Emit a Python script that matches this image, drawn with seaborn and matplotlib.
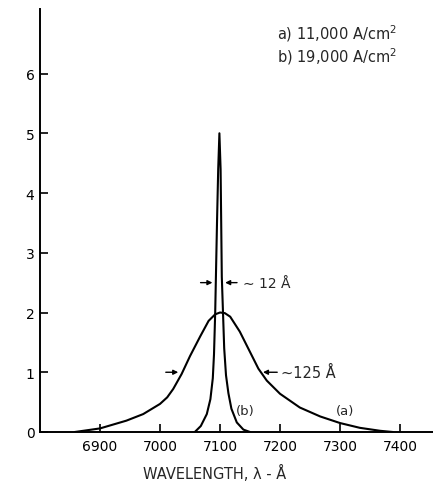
import numpy as np
import pandas as pd
import matplotlib
matplotlib.use("Agg")
import matplotlib.pyplot as plt
import seaborn as sns

# curve (a): 11,000 A/cm2
wl_a = [6858, 6900, 6944, 6972, 7000, 7012, 7022, 7036, 7050, 7067, 7081, 7092, 7100,
        7108, 7117, 7133, 7150, 7164, 7178, 7200, 7233, 7267, 7300, 7333, 7367, 7388]
int_a = [0.0, 0.06, 0.19, 0.30, 0.47, 0.58, 0.72, 0.97, 1.27, 1.60, 1.86, 1.97, 2.0,
         1.99, 1.93, 1.68, 1.34, 1.06, 0.86, 0.64, 0.41, 0.26, 0.15, 0.07, 0.02, 0.0]

# curve (b): 19,000 A/cm2
wl_b = [7058, 7068, 7078, 7084, 7088, 7090, 7092, 7093, 7095, 7097, 7099,
        7101, 7102, 7103, 7105, 7107, 7110, 7114, 7119, 7128, 7139, 7150]
int_b = [0.0, 0.10, 0.30, 0.55, 0.90, 1.30, 2.0, 2.5, 3.5, 4.4, 5.0,
         4.4, 3.5, 2.6, 2.0, 1.4, 0.95, 0.65, 0.39, 0.16, 0.04, 0.0]

x_ticks = [6900, 7000, 7100, 7200, 7300, 7400]
y_ticks = [0, 1, 2, 3, 4, 5, 6]
legend_lines = ["a) 11,000 A/cm$^2$", "b) 19,000 A/cm$^2$"]

sns.set_style("ticks")
plt.rcParams['font.family'] = ['DejaVu Sans']

fig = plt.figure(figsize=(4.33, 4.85), dpi=100)
ax = fig.add_axes([40 / 433, 52 / 485, 393 / 433, 423 / 485])

df_a = pd.DataFrame({"wl": wl_a, "I": int_a})
df_b = pd.DataFrame({"wl": wl_b, "I": int_b})
sns.lineplot(data=df_a, x="wl", y="I", color="black", lw=1.5, sort=False, estimator=None, ax=ax)
sns.lineplot(data=df_b, x="wl", y="I", color="black", lw=1.5, sort=False, estimator=None, ax=ax)

ax.set_xlim(6800, 7455)
ax.set_ylim(0, 7.08)
ax.set_xticks(x_ticks)
ax.set_yticks(y_ticks)
ax.tick_params(direction="in", length=6, width=1.2, labelsize=10, colors="black")
ax.tick_params(axis="y", pad=4)
ax.tick_params(axis="x", pad=5)
ax.spines["top"].set_visible(False)
ax.spines["right"].set_visible(False)
for s in ("left", "bottom"):
    ax.spines[s].set_linewidth(1.4)
    ax.spines[s].set_color("black")
ax.set_xlabel("WAVELENGTH, λ - Å", fontsize=10.5)
ax.xaxis.set_label_coords(0.445, -0.076)
ax.set_ylabel("")

# legend text
ax.text(7195, 6.68, legend_lines[0], fontsize=10.5, ha="left", va="center")
ax.text(7195, 6.3, legend_lines[1], fontsize=10.5, ha="left", va="center")

# curve labels
ax.text(7142, 0.36, "(b)", fontsize=9.5, ha="center", va="center")
ax.text(7308, 0.36, "(a)", fontsize=9.5, ha="center", va="center")

# width markers
arr = dict(arrowstyle="-|>", color="black", lw=1.0, mutation_scale=7)
ax.annotate("", xy=(7092, 2.5), xytext=(7063, 2.5), arrowprops=arr)
ax.annotate("", xy=(7104, 2.5), xytext=(7133, 2.5), arrowprops=arr)
ax.text(7138, 2.5, "∼ 12 Å", fontsize=10, ha="left", va="center")

ax.annotate("", xy=(7035, 1.0), xytext=(7005, 1.0), arrowprops=arr)
ax.annotate("", xy=(7167, 1.0), xytext=(7200, 1.0), arrowprops=arr)
ax.text(7202, 1.0, "∼125 Å", fontsize=10.5, ha="left", va="center")

fig.savefig("out.png", dpi=100)
